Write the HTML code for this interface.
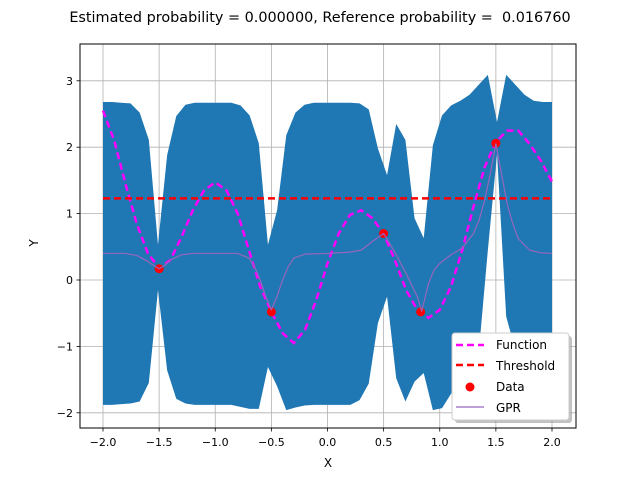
<!DOCTYPE html>
<html><head><meta charset="utf-8"><style>
body{margin:0;background:#fff}
svg{display:block;font-family:"DejaVu Sans","Liberation Sans",sans-serif}
</style></head><body>
<svg id="c" width="640" height="480" viewBox="0 0 640 480">
<rect x="0" y="0" width="640" height="480" fill="#fff"/>
<text x="320" y="22" text-anchor="middle" font-size="14.4" fill="#000" xml:space="preserve">Estimated probability = 0.000000, Reference probability =  0.016760</text>
<g id="grid"></g><g id="band"></g><g id="lines"></g>
<rect x="80" y="44" width="496" height="384" fill="none" stroke="#000" stroke-width="1"/>
<g id="ticks"></g>
<text x="328" y="467" text-anchor="middle" font-size="12">X</text>
<text x="38" y="243" text-anchor="middle" font-size="12" transform="rotate(-90 38 243)">Y</text>
<g>
<rect x="455" y="336" width="117" height="87" rx="3" fill="#999" opacity="0.6"/>
<rect x="452" y="333" width="117" height="87" rx="3" fill="#fff" stroke="#ccc"/>
<line x1="456" y1="345" x2="484" y2="345" stroke="#f0f" stroke-width="2.5" stroke-dasharray="7,4"/>
<text x="496" y="349" font-size="12">Function</text>
<line x1="456" y1="365" x2="484" y2="365" stroke="#f00" stroke-width="2.5" stroke-dasharray="7,4"/>
<text x="496" y="370" font-size="12">Threshold</text>
<circle cx="470" cy="387" r="4.5" fill="#f00"/>
<text x="496" y="391" font-size="12">Data</text>
<line x1="456" y1="407" x2="484" y2="407" stroke="#9467bd" stroke-width="1.2"/>
<text x="496" y="412" font-size="12">GPR</text>
</g>
</svg>
<script>
const xTicks=[-2.0,-1.5,-1.0,-0.5,0.0,0.5,1.0,1.5,2.0];
const yTicks=[-2,-1,0,1,2,3];
const bandUpper=[2.68,2.68,2.67,2.66,2.52,2.11,0.53,1.88,2.47,2.64,2.67,2.67,2.67,2.67,2.67,2.63,2.48,2.06,0.53,1.05,2.18,2.52,2.64,2.67,2.67,2.67,2.67,2.67,2.66,2.57,1.98,1.58,2.35,2.11,0.93,0.63,2.03,2.48,2.63,2.70,2.79,2.94,3.09,2.38,3.09,2.94,2.79,2.70,2.68,2.68];
const bandLower=[-1.88,-1.88,-1.87,-1.86,-1.83,-1.55,-0.15,-1.36,-1.79,-1.86,-1.88,-1.88,-1.88,-1.88,-1.88,-1.91,-1.94,-1.94,-1.31,-1.6,-1.96,-1.92,-1.89,-1.88,-1.88,-1.88,-1.88,-1.88,-1.81,-1.56,-0.65,-0.25,-1.48,-1.83,-1.53,-1.40,-1.96,-1.93,-1.71,-1.6,-1.3,-1.1,0.45,1.9,-0.55,-1.05,-1.5,-1.75,-1.83,-1.85];
const funcX=[-2.0,-1.9,-1.8,-1.7,-1.6,-1.5,-1.4,-1.3,-1.2,-1.1,-1.0,-0.9,-0.8,-0.7,-0.6,-0.5,-0.4,-0.3,-0.2,-0.1,0.0,0.1,0.2,0.3,0.4,0.5,0.6,0.7,0.8,0.9,1.0,1.1,1.2,1.3,1.4,1.5,1.6,1.7,1.8,1.9,2.0];
const funcY=[2.55,2.1,1.45,0.85,0.4,0.18,0.3,0.65,1.05,1.35,1.47,1.35,1.0,0.45,-0.1,-0.48,-0.8,-0.95,-0.75,-0.3,0.25,0.7,0.98,1.05,0.93,0.7,0.3,-0.15,-0.45,-0.57,-0.45,-0.1,0.45,1.1,1.7,2.08,2.25,2.25,2.05,1.8,1.48];
const gprX=[-2.0,-1.8,-1.7,-1.6,-1.55,-1.5,-1.45,-1.4,-1.3,-1.2,-0.8,-0.7,-0.65,-0.6,-0.55,-0.5,-0.45,-0.4,-0.35,-0.3,-0.2,0.0,0.2,0.3,0.4,0.5,0.6,0.7,0.8,0.84,0.9,0.95,1.0,1.1,1.2,1.3,1.35,1.4,1.45,1.5,1.55,1.6,1.65,1.7,1.8,1.9,2.0];
const gprY=[0.40,0.40,0.37,0.28,0.22,0.17,0.22,0.30,0.38,0.40,0.40,0.33,0.2,0.0,-0.25,-0.45,-0.25,0.0,0.2,0.33,0.39,0.40,0.42,0.45,0.58,0.70,0.42,0.1,-0.25,-0.47,-0.05,0.15,0.25,0.38,0.48,0.7,0.9,1.2,1.6,2.05,1.6,1.15,0.85,0.62,0.45,0.41,0.40];
const dataX=[-1.5,-0.5,0.5,0.83,1.5];
const dataY=[0.17,-0.48,0.70,-0.48,2.06];
const threshold=1.23;
const NS='http://www.w3.org/2000/svg';
const sx=v=>327.5+112.25*v, sy=v=>280-66.4*v;
function mk(t,a,p){const e=document.createElementNS(NS,t);for(const k in a)e.setAttribute(k,a[k]);p.appendChild(e);return e;}
const grid=document.getElementById('grid'),ticks=document.getElementById('ticks'),band=document.getElementById('band'),lines=document.getElementById('lines');
xTicks.forEach(t=>{const x=sx(t);
 const g=mk('line',{x1:x,x2:x,y1:44,y2:428,stroke:'#b0b0b0','stroke-width':0.8},grid);
 
 
 mk('line',{x1:x,x2:x,y1:428,y2:431.5,stroke:'#000','stroke-width':0.8},ticks);
 const l=mk('text',{x:x,y:446,'text-anchor':'middle','font-size':11},ticks);l.textContent=t.toFixed(1).replace('-','\u2212');
 
 });
yTicks.forEach(t=>{const y=sy(t);
 const g=mk('line',{x1:80,x2:576,y1:y,y2:y,stroke:'#b0b0b0','stroke-width':0.8},grid);
 
 
 mk('line',{x1:76.5,x2:80,y1:y,y2:y,stroke:'#000','stroke-width':0.8},ticks);
 const l=mk('text',{x:73,y:y+4,'text-anchor':'end','font-size':11},ticks);l.textContent=String(t).replace('-','\u2212');
 
 });
const n=bandUpper.length;const bx=i=>-2+4*i/(n-1);
let pts=[];for(let i=0;i<n;i++)pts.push(sx(bx(i))+','+sy(bandUpper[i]));
for(let i=n-1;i>=0;i--)pts.push(sx(bx(i))+','+sy(bandLower[i]));
const b=mk('polygon',{points:pts.join(' '),fill:'#1f77b4'},band);


const f=mk('polyline',{points:funcX.map((x,i)=>sx(x)+','+sy(funcY[i])).join(' '),fill:'none',stroke:'#f0f','stroke-width':2.5,'stroke-dasharray':'7,4'},lines);


const th=mk('line',{x1:sx(-2),x2:sx(2),y1:sy(threshold),y2:sy(threshold),stroke:'#f00','stroke-width':2.5,'stroke-dasharray':'7,4'},lines);


dataX.forEach((x,i)=>{const c=mk('circle',{cx:sx(x),cy:sy(dataY[i]),r:4.5,fill:'#f00'},lines);
 
 });
const gp=mk('polyline',{points:gprX.map((x,i)=>sx(x)+','+sy(gprY[i])).join(' '),fill:'none',stroke:'#9467bd','stroke-width':1.2,'stroke-linejoin':'round'},lines);


</script>
</body></html>
